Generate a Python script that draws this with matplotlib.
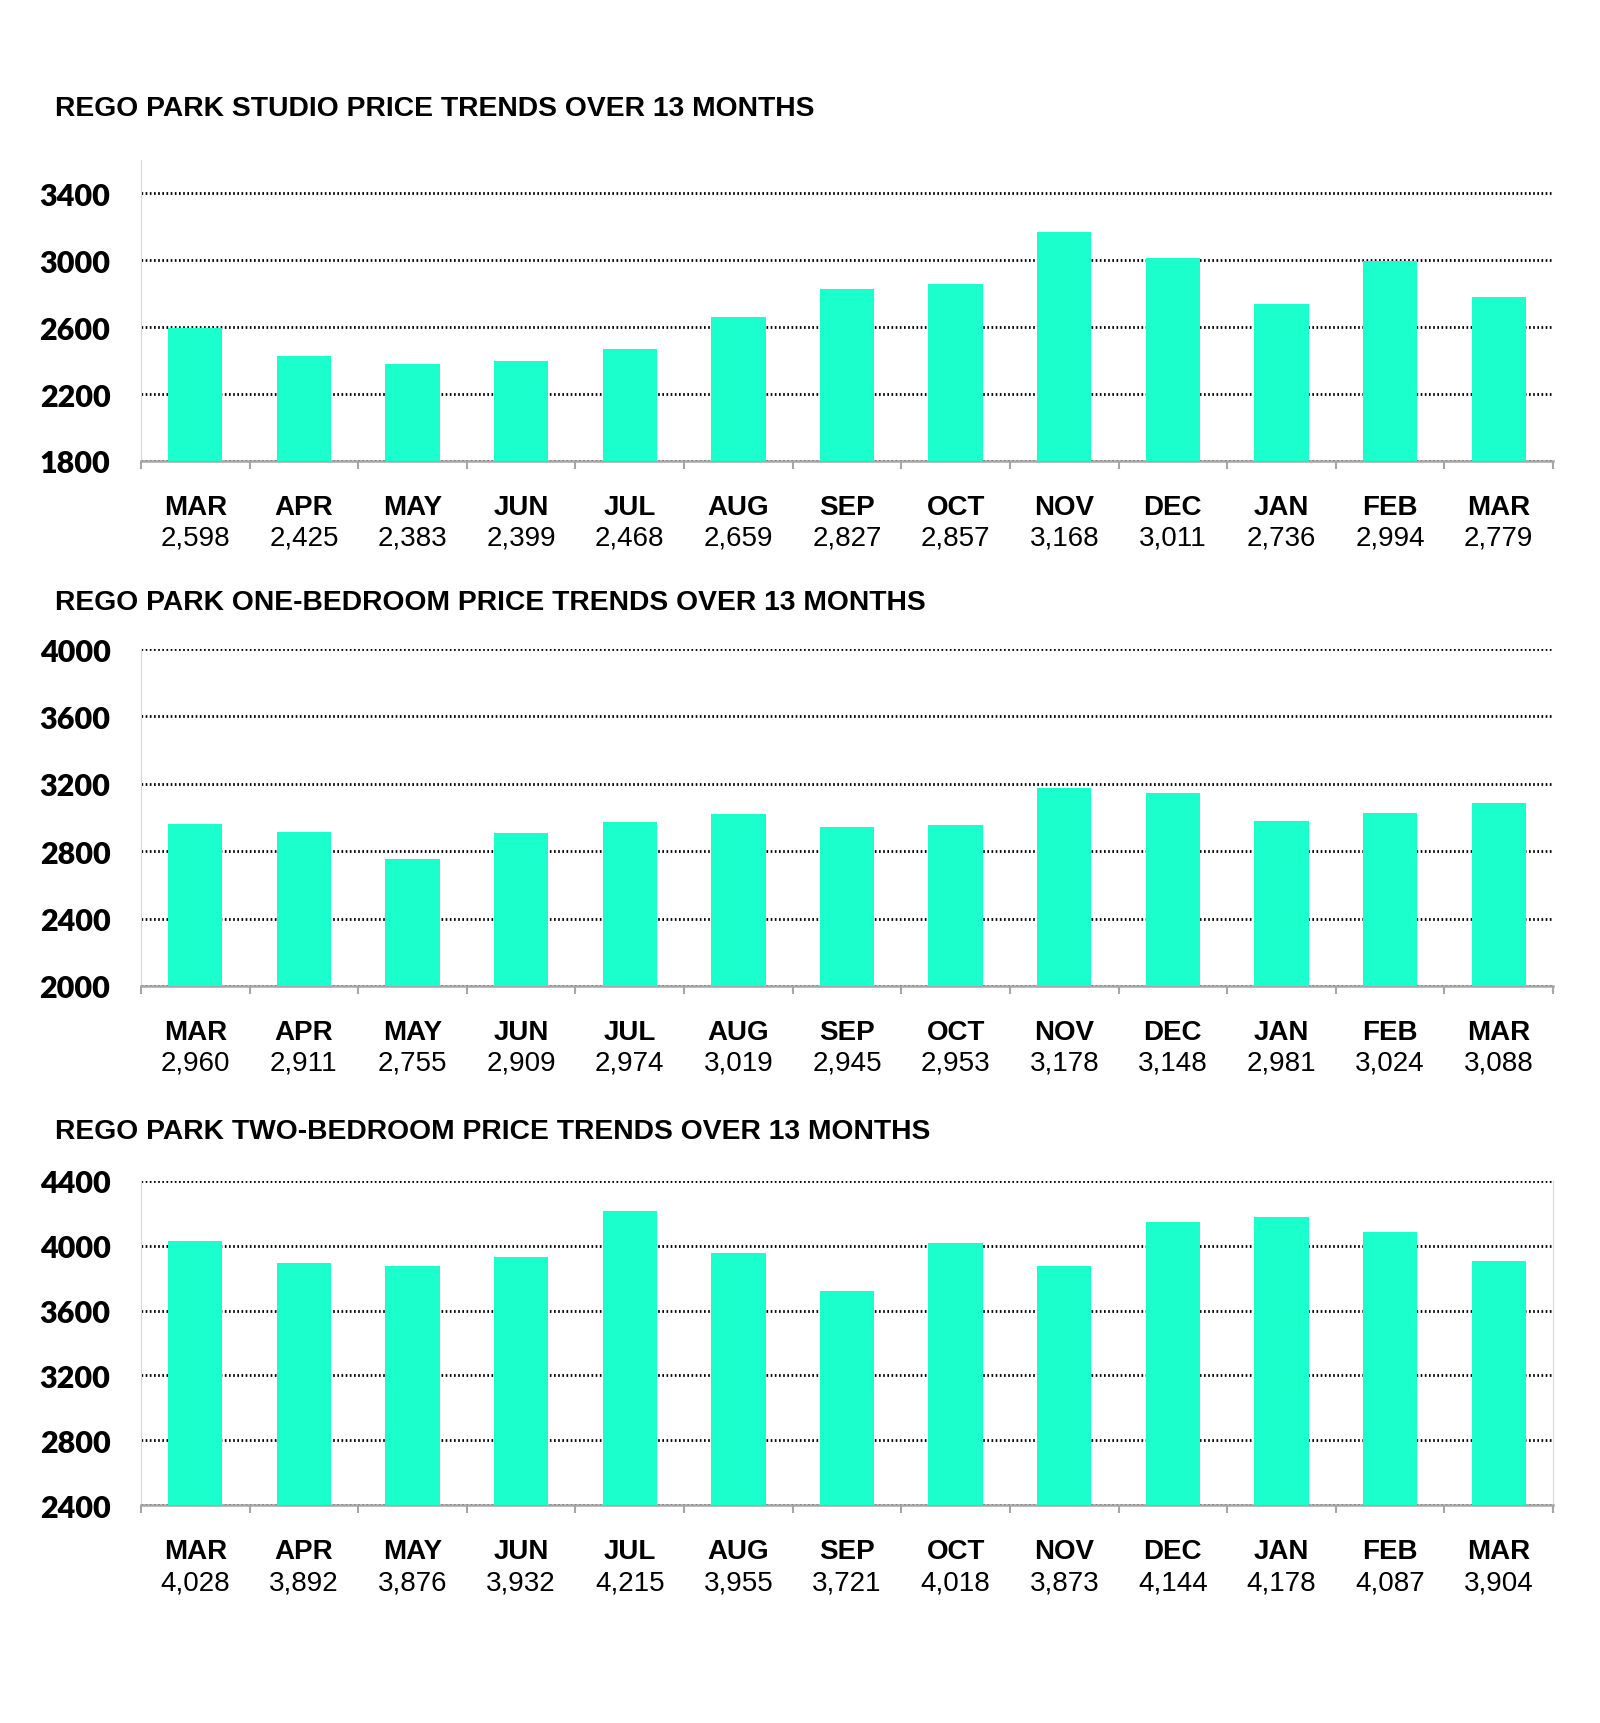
import numpy as np
import matplotlib.pyplot as plt
from matplotlib.ticker import FixedLocator

months = ['MAR', 'APR', 'MAY', 'JUN', 'JUL', 'AUG', 'SEP', 'OCT', 'NOV', 'DEC', 'JAN', 'FEB', 'MAR']

studio = [2598, 2425, 2383, 2399, 2468, 2659, 2827, 2857, 3168, 3011, 2736, 2994, 2779]
one_bed = [2960, 2911, 2755, 2909, 2974, 3019, 2945, 2953, 3178, 3148, 2981, 3024, 3088]
two_bed = [4028, 3892, 3876, 3932, 4215, 3955, 3721, 4018, 3873, 4144, 4178, 4087, 3904]

titles = ['REGO PARK STUDIO PRICE TRENDS OVER 13 MONTHS',
          'REGO PARK ONE-BEDROOM PRICE TRENDS OVER 13 MONTHS',
          'REGO PARK TWO-BEDROOM PRICE TRENDS OVER 13 MONTHS']
yticks = [[1800, 2200, 2600, 3000, 3400],
          [2000, 2400, 2800, 3200, 3600, 4000],
          [2400, 2800, 3200, 3600, 4000, 4400]]
ylims = [(1800, 3600), (2000, 4000), (2400, 4400)]

BAR = '#1affcc'
W, H = 1600, 1724

# pixel layout: (top, baseline, title y)
boxes = [(161, 462, 109), (650, 987, 603), (1182, 1506, 1132)]
left_px, right_px = 141, 1553

fig = plt.figure(figsize=(16, 17.24), dpi=100)

for k, data in enumerate([studio, one_bed, two_bed]):
    top, base, ty = boxes[k]
    ax = fig.add_axes([left_px / W, 1 - base / H, (right_px - left_px) / W, (base - top) / H])
    x = np.arange(len(data))
    ax.bar(x, data, width=0.5, color=BAR, zorder=3)
    ax.set_xlim(-0.5, len(data) - 0.5)
    ax.set_ylim(*ylims[k])
    ax.set_yticks(yticks[k])
    ax.yaxis.grid(True, color='black', linestyle=(0, (0.6, 0.9)), linewidth=2.0)
    ax.set_axisbelow(True)
    ax.tick_params(axis='y', length=0, pad=22)
    for lab in ax.get_yticklabels():
        lab.set_fontfamily('Lato')
        lab.set_fontweight('heavy')
        lab.set_fontsize(22)

    ax.xaxis.set_major_locator(FixedLocator(np.arange(-0.5, len(data), 1.0)))
    ax.set_xticklabels([])
    ax.tick_params(axis='x', length=6, width=1.5, color='#a6a6a6', direction='out')

    ax.spines['top'].set_visible(False)
    ax.spines['right'].set_visible(k == 2)
    ax.spines['right'].set_color('#d9d9d9')
    ax.spines['left'].set_color('#d9d9d9')
    ax.spines['bottom'].set_color('#a6a6a6')
    ax.spines['bottom'].set_linewidth(1.8)

    for i, (m, v) in enumerate(zip(months, data)):
        ax.annotate(m, xy=(i, 0), xycoords=('data', 'axes fraction'),
                    xytext=(0, -46 * 0.72), textcoords='offset points',
                    ha='center', va='center', fontsize=20, fontweight='bold',
                    family='Liberation Sans')
        ax.annotate(f'{v:,}', xy=(i, 0), xycoords=('data', 'axes fraction'),
                    xytext=(0, -77 * 0.72), textcoords='offset points',
                    ha='center', va='center', fontsize=20,
                    family='Liberation Sans')

    fig.text(55 / W, 1 - ty / H, titles[k], ha='left', va='center',
             fontsize=20.3, fontweight='bold', family='Liberation Sans')

fig.savefig('out.png', dpi=100, facecolor='white')
